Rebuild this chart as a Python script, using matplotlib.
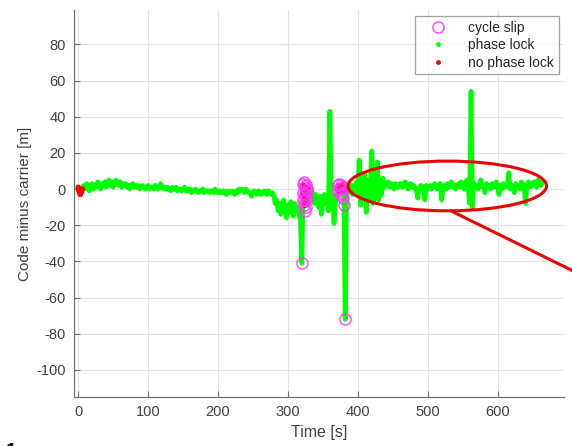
import numpy as np
import matplotlib
matplotlib.use("Agg")
import matplotlib.pyplot as plt
from matplotlib.patches import Ellipse
from matplotlib.lines import Line2D

plt.rcParams['font.family'] = ['Liberation Sans', 'DejaVu Sans']
plt.rcParams['axes.unicode_minus'] = False

# ---------------- data ----------------
# phase-locked samples, every 2 s from t = 6 s to t = 664 s
green_t0, green_dt = 6, 2
green_v = [
    1, 2, 0, 3, 1, -1, 2, 3, 0, 2,           # 6-24
    1, 4, 2, 0, 3, 2, 4, 1, 3, 5,            # 26-44
    2, 4, 1, 3, 5, 3, 2, 4, 1, 3,            # 46-64
    2, 3, 1, 2, 0, 2, 3, 1, 2, 1,            # 66-84
    2, 0, 1, 2, 1, 0, 1, 2, 0, 1,            # 86-104
    1, 0, 2, 1, 0, 1, 3, 1, 0, 1,            # 106-124
    0, 1, 0, -1, 1, 0, 0, 1, -1, 0,          # 126-144
    0, -1, 0, 1, -1, 0, -1, 0, -2, -1,       # 146-164
    -1, 0, -1, -2, -1, -1, 0, -2, -1, -1,    # 166-184
    -1, -2, -1, -1, -2, 0, -1, -2, -1, -2,   # 186-204
    -2, -1, -2, -3, -1, -2, -2, -1, -2, -3,  # 206-224
    -1, -2, 0, -1, 0, -1, -2, 0, -1, -2,     # 226-244
    -2, -4, -2, -1, -2, -3, -1, -2, -3, -2,  # 246-264
    -1, -2, -3, -1, -2, -3, -2, -4, -8, -6,  # 266-284
    -12, -8, -14, -10, -6, -12, -16, -9, -13, -7,  # 286-304
    -11, -15, -8, -12, -10, -14, -18, -41, 2, -3,  # 306-324
    0, -9, -5, -2, 0, -4, -8, -3, -6, -10,   # 326-344
    -4, -14, -6, -3, -8, -5, -12, 43, -2, -5, # 346-364
    -19, -8, -3, 0, 1, -1, 2, 0, -72, 1,     # 366-384
    -2, 3, 0, -3, 2, -1, 4, -2, 16, -9,      # 386-404
    6, -4, 8, -13, 5, -6, 2, 21, -8, 10,     # 406-424
    -5, 15, -6, 4, -3, 6, 1, 3, 2, 4,        # 426-444
    1, 3, 2, 0, 3, 2, 1, 3, 3, 1,            # 446-464
    2, 4, 2, 0, 2, 3, 1, 2, 0, -1,           # 466-484
    -5, 1, 2, 0, 1, -6, 2, 0, 1, 2,          # 486-504
    0, 1, 3, 1, 0, 2, 3, -6, 1, 2,           # 506-524
    0, 3, 1, 2, 4, 1, 2, 0, 2, 3,            # 526-544
    1, 4, 2, 0, 3, 5, 1, -8, 54, -10,        # 546-564
    3, 1, 2, 0, 3, 5, 1, 2, -2, 3,           # 566-584
    1, 2, 0, 3, 1, 2, 4, 1, -3, 2,           # 586-604
    0, 3, 2, 1, 3, 9, 0, 2, 1, -2,           # 606-624
    3, 1, 2, 0, 4, 3, 1, -8, 2, 4,           # 626-644
    1, 3, 2, 4, 3, 1, 5, 3, 2, 4,            # 646-664
]

# samples without phase lock (three runs)
red1_t = [0, 1, 2, 3, 4, 5, 6]
red1_v = [1, -1, -2, -3, -2, -1, 0]
red2_t = [321, 322, 322.5, 323, 324, 324.5, 325, 326, 327, 328]
red2_v = [-2, 2, -5, -3, 0, -9, -5, -7, 1, -2]
red3_t = [370, 371, 372, 373, 374, 375, 376, 377, 378, 379, 380]
red3_v = [0, 1, -1, 2, 0, 1, -1, 1, 2, 0, -1]

# detected cycle slips
slip_t = [320, 321, 321, 322, 323, 323, 324, 324, 325, 326, 326, 327, 327,
          328, 325, 371, 372, 373, 374, 375, 376, 377, 378, 379, 380, 381]
slip_v = [-41, -2, 3, -6, 4, -9, -3, 1, -6, -10, 2, -1, -5,
          0, -12, 2, -1, 3, 0, -3, 2, -2, 1, -5, -9, -72]

x_ticks = [0, 100, 200, 300, 400, 500, 600]
y_ticks = [-100, -80, -60, -40, -20, 0, 20, 40, 60, 80]
legend_labels = ['cycle slip', 'phase lock', 'no phase lock']

# ---------------- figure ----------------
green_t = green_t0 + green_dt * np.arange(len(green_v))

fig = plt.figure(figsize=(5.72, 4.46), dpi=100)
ax = fig.add_axes([74 / 572, 1 - 397 / 446, (564 - 74) / 572, (397 - 10) / 446])

tick_col = '#404040'
ax.plot(green_t, green_v, color='#00ff00', lw=3.4, solid_joinstyle='round',
        solid_capstyle='round', zorder=3)
for rt, rv in [(red1_t, red1_v), (red2_t, red2_v), (red3_t, red3_v)]:
    ax.plot(rt, rv, color='#ff0000', lw=4, solid_capstyle='round', zorder=4)
ax.plot(slip_t, slip_v, 'o', mfc='none', mec='#ff33ff', ms=8, mew=1.1,
        alpha=0.85, zorder=5)

ax.set_xlim(-6, 695)
ax.set_ylim(-115, 99)
ax.set_xticks(x_ticks)
ax.set_yticks(y_ticks)
ax.grid(True, color='#e3e3e3', lw=0.8)
ax.set_axisbelow(True)
for s in ['top', 'right']:
    ax.spines[s].set_visible(False)
for s in ['left', 'bottom']:
    ax.spines[s].set_color('#707070')
    ax.spines[s].set_linewidth(0.9)
ax.tick_params(direction='in', length=4, width=0.8, color='#707070',
               labelcolor=tick_col, labelsize=10.5, pad=6)
ax.set_xlabel('Time [s]', fontsize=11.5, color=tick_col, labelpad=4)
ax.set_ylabel('Code minus carrier [m]', fontsize=11, color=tick_col, labelpad=3)

# legend
handles = [
    Line2D([], [], ls='none', marker='o', mfc='none', mec='#ff40ff', ms=8, mew=1.0),
    Line2D([], [], ls='none', marker='.', color='#00ff00', ms=5),
    Line2D([], [], ls='none', marker='.', color='#ff0000', ms=5),
]
leg = ax.legend(handles, legend_labels, loc='upper right',
                bbox_to_anchor=(0.99, 0.985), fontsize=10, frameon=True,
                fancybox=False, handlelength=2.6, handletextpad=0.9,
                borderpad=0.35, labelspacing=0.25, borderaxespad=0.0)
leg.get_frame().set_edgecolor('#8a8a8a')
leg.get_frame().set_linewidth(0.9)
for t in leg.get_texts():
    t.set_color('#262626')

# red annotation ellipse and pointer line
ell = Ellipse((528, 1.7), 284, 27.5, fill=False, edgecolor='#ee0000', lw=2.2,
              zorder=6)
ax.add_patch(ell)
ax.plot([534, 760], [-12.2, -55.2], color='#ee0000', lw=2.2, clip_on=False,
        zorder=6)

fig.text(0.01, -0.022, '1', fontsize=14, fontweight='bold', color='black')

fig.savefig('out.png', dpi=100)
